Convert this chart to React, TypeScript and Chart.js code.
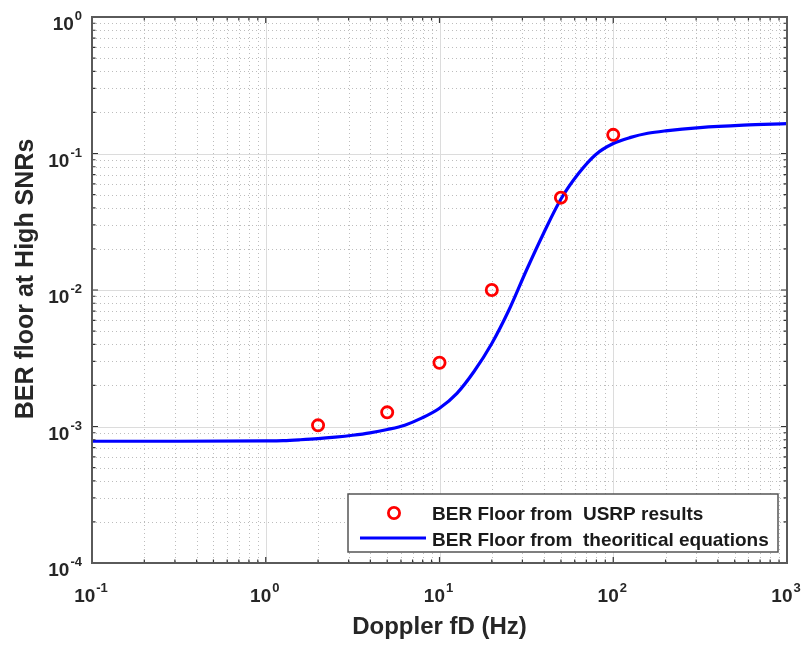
import React, { useEffect, useRef } from 'react';
import { Chart, registerables } from 'chart.js';

Chart.register(...registerables);

// ---- data ----
const usrpFd = [2, 5, 10, 20, 50, 100];
const usrpBer = [1.02e-3, 1.27e-3, 2.93e-3, 1.0e-2, 4.75e-2, 1.37e-1];

const theoryFd = [0.1, 0.316, 1, 1.26, 1.58, 2.0, 2.51, 3.16, 3.98, 5.01, 6.31, 7.94, 10, 12.6, 15.8, 20.0, 25.1, 31.6, 39.8, 50.1, 63.1, 79.4, 100, 126, 158, 200, 316, 562, 1000];
const theoryBer = [7.8e-4, 7.8e-4, 7.85e-4, 7.89e-4, 8.0e-4, 8.15e-4, 8.36e-4, 8.63e-4, 8.99e-4, 9.51e-4, 1.023e-3, 1.156e-3, 1.361e-3, 1.75e-3, 2.529e-3, 4.055e-3, 7.13e-3, 1.39e-2, 2.618e-2, 4.656e-2, 7.13e-2, 9.84e-2, 0.1183, 0.1312, 0.1406, 0.1466, 0.1549, 0.1614, 0.1656];

const xDecades = [-1, 0, 1, 2, 3];
const yDecades = [-4, -3, -2, -1, 0];
const xTitle = 'Doppler fD (Hz)';
const yTitle = 'BER floor at High SNRs';
const legendLabels = ['BER Floor from  USRP results', 'BER Floor from  theoritical equations'];

const FONT = '"Liberation Sans", Arial, Helvetica, sans-serif';
const TEXT = '#262626';
const AXIS = '#5a5a5a';
const RED = '#ff0000';
const BLUE = '#0000ff';

function drawPow(ctx: CanvasRenderingContext2D, exp: number, x: number, baseline: number, align: 'center' | 'right') {
  const base = '10';
  const e = String(exp);
  ctx.font = `bold 19px ${FONT}`;
  const wb = ctx.measureText(base).width;
  ctx.font = `bold 13px ${FONT}`;
  const we = ctx.measureText(e).width;
  const total = wb + 1 + we;
  const start = align === 'center' ? x - total / 2 : x - total;
  ctx.textAlign = 'left';
  ctx.textBaseline = 'alphabetic';
  ctx.fillStyle = TEXT;
  ctx.font = `bold 19px ${FONT}`;
  ctx.fillText(base, start, baseline);
  ctx.font = `bold 13px ${FONT}`;
  ctx.fillText(e, start + wb + 1, baseline - 10);
}

const matlabPlugin = {
  id: 'matlabAxes',
  beforeDatasetsDraw(chart: any) {
    const { ctx, chartArea: a, scales } = chart;
    const xs = scales.x;
    const ys = scales.y;
    ctx.save();
    ctx.fillStyle = '#ffffff';
    ctx.fillRect(a.left, a.top, a.right - a.left, a.bottom - a.top);
    // minor grid (dotted)
    ctx.lineWidth = 1;
    ctx.strokeStyle = '#bdbdbd';
    ctx.setLineDash([1, 3]);
    for (let i = 0; i < xDecades.length - 1; i++) {
      for (let k = 2; k <= 9; k++) {
        const px = Math.round(xs.getPixelForValue(k * Math.pow(10, xDecades[i]))) + 0.5;
        ctx.beginPath();
        ctx.moveTo(px, a.top);
        ctx.lineTo(px, a.bottom);
        ctx.stroke();
      }
    }
    for (let i = 0; i < yDecades.length - 1; i++) {
      for (let k = 2; k <= 9; k++) {
        const py = Math.round(ys.getPixelForValue(k * Math.pow(10, yDecades[i]))) + 0.5;
        ctx.beginPath();
        ctx.moveTo(a.left, py);
        ctx.lineTo(a.right, py);
        ctx.stroke();
      }
    }
    ctx.setLineDash([]);
    // major grid
    ctx.strokeStyle = '#dcdcdc';
    for (const d of xDecades) {
      const px = Math.round(xs.getPixelForValue(Math.pow(10, d))) + 0.5;
      ctx.beginPath();
      ctx.moveTo(px, a.top);
      ctx.lineTo(px, a.bottom);
      ctx.stroke();
    }
    for (const d of yDecades) {
      const py = Math.round(ys.getPixelForValue(Math.pow(10, d))) + 0.5;
      ctx.beginPath();
      ctx.moveTo(a.left, py);
      ctx.lineTo(a.right, py);
      ctx.stroke();
    }
    ctx.restore();
  },
  afterDatasetsDraw(chart: any) {
    const { ctx, chartArea: a, scales } = chart;
    const xs = scales.x;
    const ys = scales.y;
    ctx.save();
    // ticks (inward, all four sides)
    ctx.strokeStyle = '#333333';
    ctx.lineWidth = 1.2;
    const majorLen = 6;
    const minorLen = 3.5;
    for (let i = 0; i < xDecades.length; i++) {
      for (let k = 1; k <= 9; k++) {
        if (i === xDecades.length - 1 && k > 1) break;
        const px = xs.getPixelForValue(k * Math.pow(10, xDecades[i]));
        const len = k === 1 ? majorLen : minorLen;
        ctx.beginPath();
        ctx.moveTo(px, a.bottom);
        ctx.lineTo(px, a.bottom - len);
        ctx.moveTo(px, a.top);
        ctx.lineTo(px, a.top + len);
        ctx.stroke();
      }
    }
    for (let i = 0; i < yDecades.length; i++) {
      for (let k = 1; k <= 9; k++) {
        if (i === yDecades.length - 1 && k > 1) break;
        const py = ys.getPixelForValue(k * Math.pow(10, yDecades[i]));
        const len = k === 1 ? majorLen : minorLen;
        ctx.beginPath();
        ctx.moveTo(a.left, py);
        ctx.lineTo(a.left + len, py);
        ctx.moveTo(a.right, py);
        ctx.lineTo(a.right - len, py);
        ctx.stroke();
      }
    }
    // box
    ctx.strokeStyle = AXIS;
    ctx.lineWidth = 2;
    ctx.strokeRect(a.left, a.top, a.right - a.left, a.bottom - a.top);

    // tick labels
    for (const d of xDecades) {
      drawPow(ctx, d, xs.getPixelForValue(Math.pow(10, d)) - 1, a.bottom + 39, 'center');
    }
    for (const d of yDecades) {
      drawPow(ctx, d, a.left - 10, ys.getPixelForValue(Math.pow(10, d)) + 13, 'right');
    }

    // axis titles
    ctx.fillStyle = TEXT;
    ctx.font = `bold 24px ${FONT}`;
    ctx.textAlign = 'center';
    ctx.textBaseline = 'alphabetic';
    ctx.fillText(xTitle, (a.left + a.right) / 2, a.bottom + 71);
    ctx.save();
    ctx.font = `bold 25px ${FONT}`;
    ctx.translate(33, (a.top + a.bottom) / 2 - 11);
    ctx.rotate(-Math.PI / 2);
    ctx.fillText(yTitle, 0, 0);
    ctx.restore();

    // legend
    const lw = 430;
    const lh = 58;
    const lx = a.right - 9 - lw;
    const ly = a.bottom - 11 - lh;
    ctx.fillStyle = '#ffffff';
    ctx.fillRect(lx, ly, lw, lh);
    ctx.strokeStyle = '#555555';
    ctx.lineWidth = 1.5;
    ctx.strokeRect(lx, ly, lw, lh);
    // marker entry
    ctx.strokeStyle = RED;
    ctx.lineWidth = 2.8;
    ctx.beginPath();
    ctx.arc(lx + 46, ly + 19, 5.6, 0, Math.PI * 2);
    ctx.stroke();
    // line entry
    ctx.strokeStyle = BLUE;
    ctx.lineWidth = 3;
    ctx.beginPath();
    ctx.moveTo(lx + 12, ly + 44);
    ctx.lineTo(lx + 78, ly + 44);
    ctx.stroke();
    ctx.fillStyle = '#1a1a1a';
    ctx.font = `bold 19px ${FONT}`;
    ctx.textAlign = 'left';
    ctx.fillText(legendLabels[0], lx + 84, ly + 26);
    ctx.fillText(legendLabels[1], lx + 84, ly + 52);
    ctx.restore();
  },
};

export default function App() {
  const ref = useRef<HTMLCanvasElement | null>(null);
  useEffect(() => {
    if (!ref.current) return;
    const chart = new Chart(ref.current, {
      type: 'scatter',
      data: {
        datasets: [
          {
            label: legendLabels[0],
            data: usrpFd.map((x, i) => ({ x, y: usrpBer[i] })),
            showLine: false,
            pointStyle: 'circle',
            pointRadius: 5.6,
            pointBorderWidth: 2.8,
            pointBorderColor: RED,
            pointBackgroundColor: 'rgba(0,0,0,0)',
            order: 0,
          },
          {
            label: legendLabels[1],
            data: theoryFd.map((x, i) => ({ x, y: theoryBer[i] })),
            showLine: true,
            borderColor: BLUE,
            borderWidth: 3.2,
            pointRadius: 0,
            cubicInterpolationMode: 'monotone',
            fill: false,
            order: 1,
          },
        ],
      },
      options: {
        responsive: false,
        animation: false,
        devicePixelRatio: 1,
        layout: { autoPadding: false, padding: { left: 92, top: 17, right: 18, bottom: 82 } },
        scales: {
          x: { type: 'logarithmic', min: 0.1, max: 1000, display: false },
          y: { type: 'logarithmic', min: 1e-4, max: 1, display: false },
        },
        plugins: {
          legend: { display: false },
          tooltip: { enabled: false },
        },
        events: [],
      },
      plugins: [matlabPlugin],
    } as any);
    return () => chart.destroy();
  }, []);
  return (
    <div style={{ position: 'absolute', left: 0, top: 0, width: 805, height: 645, background: '#ffffff' }}>
      <canvas ref={ref} width={805} height={645} style={{ width: 805, height: 645, display: 'block' }} />
    </div>
  );
}
